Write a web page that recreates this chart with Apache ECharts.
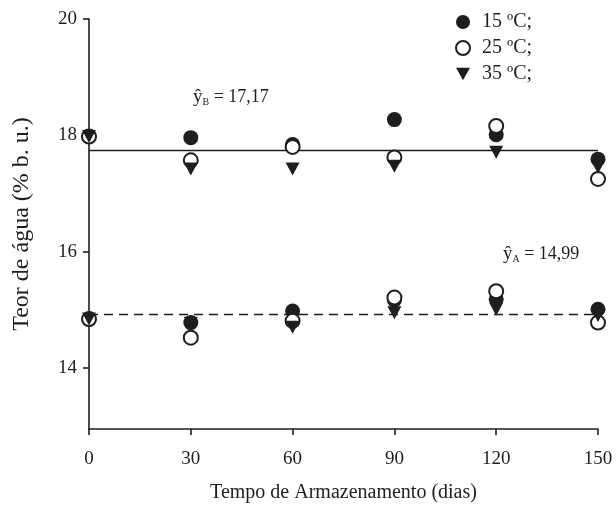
<!DOCTYPE html>
<html>
<head>
<meta charset="utf-8">
<script src="https://cdn.jsdelivr.net/npm/echarts@6/dist/echarts.min.js"></script>
<style>html,body{margin:0;padding:0;background:#fff}#c{width:616px;height:508px}</style>
</head>
<body>
<div id="c"></div>
<script>
// Data
const days = [0, 30, 60, 90, 120, 150];
const xTicks = [0, 30, 60, 90, 120, 150];
const yTicks = [14, 16, 18, 20];
// Group B (upper)
const b15 = [17.98, 17.96, 17.84, 18.27, 18.01, 17.59];
const b25 = [17.98, 17.57, 17.80, 17.62, 18.16, 17.25];
const b35 = [17.98, 17.42, 17.42, 17.47, 17.71, 17.45];
// Group A (lower)
const a15 = [14.84, 14.78, 14.98, 15.17, 15.18, 15.01];
const a25 = [14.84, 14.52, 14.81, 15.21, 15.32, 14.78];
const a35 = [14.84, 14.77, 14.70, 14.95, 15.01, 14.90];
// Fitted mean lines (position as drawn)
const fitB = [17.74, 17.74];
const fitA = [14.92, 14.92];
const fitX = [0, 150];
const seriesNames = ['15 ºC;', '25 ºC;', '35 ºC;'];

const ink = '#1e1e1e';
const font = '"Liberation Serif", "DejaVu Serif", serif';
const tri = 'path://M0,0 L10,0 L5,9 Z';

function pts(vals) { return days.map((d, i) => [d, vals[i]]); }
function linePts(vals) { return fitX.map((d, i) => [d, vals[i]]); }

const filledStyle = { color: ink, opacity: 1 };
const openStyle = { color: '#fff', borderColor: ink, borderWidth: 2, opacity: 1 };

const chart = echarts.init(document.getElementById('c'), null, { renderer: 'canvas' });
chart.setOption({
  animation: false,
  textStyle: { fontFamily: font, color: ink },
  grid: { left: 89, right: 18, top: 19, bottom: 74, containLabel: false },
  legend: {
    orient: 'vertical', left: 450, top: 7, itemWidth: 14, itemHeight: 14, itemGap: 6,
    textStyle: { fontFamily: font, fontSize: 20, color: ink, padding: [0, 0, 0, 7] },
    data: [
      { name: seriesNames[0], icon: 'circle' },
      { name: seriesNames[1], icon: 'circle' },
      { name: seriesNames[2], icon: tri }
    ]
  },
  xAxis: {
    type: 'value', min: 0, max: 150, interval: 30,
    name: 'Tempo de Armazenamento (dias)', nameLocation: 'middle', nameGap: 54,
    nameTextStyle: { fontFamily: font, fontSize: 20, color: ink },
    axisLine: { onZero: false, lineStyle: { color: ink, width: 1.6 } },
    axisTick: { show: true, length: 6, lineStyle: { color: ink, width: 1.6 } },
    axisLabel: { fontFamily: font, fontSize: 19, color: ink, margin: 21,
      customValues: xTicks },
    splitLine: { show: false }
  },
  yAxis: {
    type: 'value', min: 12.95, max: 20,
    name: 'Teor de água (% b. u.)', nameLocation: 'middle', nameGap: 55,
    nameTextStyle: { fontFamily: font, fontSize: 24, color: ink },
    axisLine: { show: true, onZero: false, lineStyle: { color: ink, width: 1.6 } },
    axisTick: { show: true, length: 6, lineStyle: { color: ink, width: 1.6 }, customValues: yTicks },
    axisLabel: { fontFamily: font, fontSize: 19, color: ink, margin: 12, customValues: yTicks },
    splitLine: { show: false }
  },
  series: [
    { type: 'line', data: linePts(fitB), symbol: 'none', lineStyle: { color: ink, width: 1.6 }, silent: true, z: 1 },
    { type: 'line', data: linePts(fitA), symbol: 'none', lineStyle: { color: ink, width: 1.6, type: [9, 6] }, silent: true, z: 1 },
    { name: seriesNames[0], type: 'scatter', symbol: 'circle', symbolSize: 15, itemStyle: filledStyle, data: pts(b15), z: 2 },
    { name: seriesNames[0], type: 'scatter', symbol: 'circle', symbolSize: 15, itemStyle: filledStyle, data: pts(a15), z: 2 },
    { name: seriesNames[1], type: 'scatter', symbol: 'circle', symbolSize: 14, itemStyle: openStyle, data: pts(b25), z: 3 },
    { name: seriesNames[1], type: 'scatter', symbol: 'circle', symbolSize: 14, itemStyle: openStyle, data: pts(a25), z: 3 },
    { name: seriesNames[2], type: 'scatter', symbol: tri, symbolSize: [14, 13], itemStyle: filledStyle, data: pts(b35), z: 4 },
    { name: seriesNames[2], type: 'scatter', symbol: tri, symbolSize: [14, 13], itemStyle: filledStyle, data: pts(a35), z: 4 }
  ],
  graphic: [
    { type: 'text', left: 193, top: 88, style: {
      text: '{y|ŷ}{s|B}{t| = 17,17}', fill: ink,
      rich: { y: { fontFamily: font, fontSize: 19, fill: ink },
              s: { fontFamily: font, fontSize: 10, fill: ink, verticalAlign: 'bottom', padding: [9, 0, 0, 0] },
              t: { fontFamily: font, fontSize: 18, fill: ink } } } },
    { type: 'text', left: 503, top: 245, style: {
      text: '{y|ŷ}{s|A}{t| = 14,99}', fill: ink,
      rich: { y: { fontFamily: font, fontSize: 19, fill: ink },
              s: { fontFamily: font, fontSize: 10, fill: ink, verticalAlign: 'bottom', padding: [9, 0, 0, 0] },
              t: { fontFamily: font, fontSize: 18, fill: ink } } } }
  ]
});
</script>
</body>
</html>
